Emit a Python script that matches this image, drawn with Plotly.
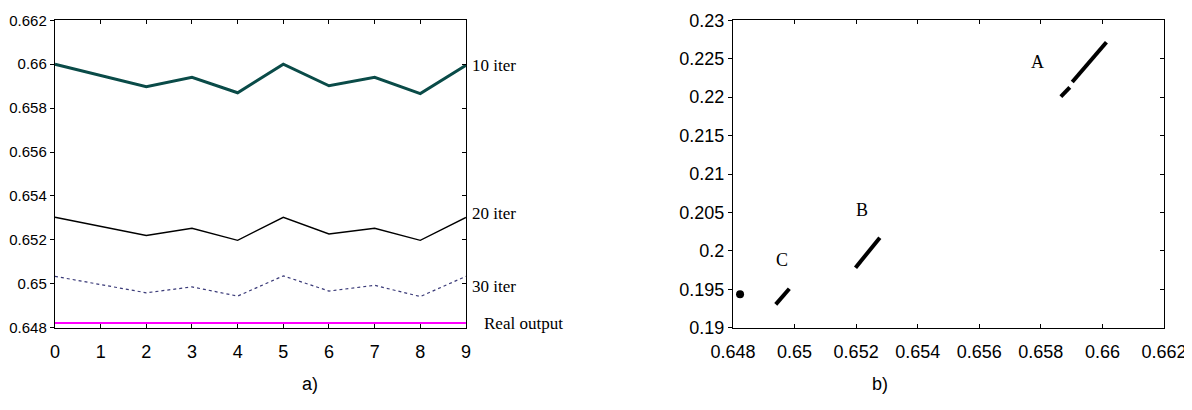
import plotly.graph_objects as go

# ---- data: panel a) ----
iterations = [0, 1, 2, 3, 4, 5, 6, 7, 8, 9]
iter10 = [0.6600, 0.6595, 0.65897, 0.6594, 0.6587, 0.6600, 0.65902, 0.6594, 0.65866, 0.65995]
iter20 = [0.65303, 0.65262, 0.6522, 0.65253, 0.65198, 0.65303, 0.65227, 0.65253, 0.65198, 0.65302]
iter30 = [0.65034, 0.64997, 0.64959, 0.64986, 0.64944, 0.65036, 0.64967, 0.64993, 0.64942, 0.65034]
real_output = [0.64821] * 10
a_labels = ["10 iter", "20 iter", "30 iter", "Real output"]
a_label_y = [0.65992, 0.6532, 0.64987, 0.6482]

# ---- data: panel b) ----
A1_x = [0.65865, 0.65894]
A1_y = [0.22006, 0.22128]
A2_x = [0.65902, 0.66013]
A2_y = [0.22197, 0.22714]
B_x = [0.65198, 0.65277]
B_y = [0.19781, 0.20171]
C_x = [0.64939, 0.64983]
C_y = [0.19304, 0.19507]
real_x = [0.64823]
real_y = [0.19434]
b_labels = ["A", "B", "C"]
b_label_x = [0.6579, 0.65219, 0.64958]
b_label_y = [0.2246, 0.2053, 0.1988]

a_yticks = [0.648, 0.65, 0.652, 0.654, 0.656, 0.658, 0.66, 0.662]
a_yticktext = ["0.648", "0.65", "0.652", "0.654", "0.656", "0.658", "0.66", "0.662"]
b_xticks = [0.648, 0.65, 0.652, 0.654, 0.656, 0.658, 0.66, 0.662]
b_xticktext = ["0.648", "0.65", "0.652", "0.654", "0.656", "0.658", "0.66", "0.662"]
b_yticks = [0.19, 0.195, 0.2, 0.205, 0.21, 0.215, 0.22, 0.225, 0.23]
b_yticktext = ["0.19", "0.195", "0.2", "0.205", "0.21", "0.215", "0.22", "0.225", "0.23"]

SANS = "Liberation Sans, Arial, sans-serif"
SERIF = "Liberation Serif, Times New Roman, serif"

fig = go.Figure()

# panel a traces
fig.add_trace(go.Scatter(x=iterations, y=iter10, mode="lines",
                         line=dict(color="#0a4b48", width=3), xaxis="x", yaxis="y"))
fig.add_trace(go.Scatter(x=iterations, y=iter20, mode="lines",
                         line=dict(color="#000000", width=1.4), xaxis="x", yaxis="y"))
fig.add_trace(go.Scatter(x=iterations, y=iter30, mode="lines",
                         line=dict(color="#3a3a78", width=1.2, dash="dot"), xaxis="x", yaxis="y"))
fig.add_trace(go.Scatter(x=iterations, y=real_output, mode="lines",
                         line=dict(color="#ff00ff", width=2), xaxis="x", yaxis="y"))
# overlay axis for right-side inner ticks (panel a)
fig.add_trace(go.Scatter(x=[], y=[], xaxis="x", yaxis="y3", showlegend=False))

# panel b traces
for xs, ys in [(A1_x, A1_y), (A2_x, A2_y), (B_x, B_y), (C_x, C_y)]:
    fig.add_trace(go.Scatter(x=xs, y=ys, mode="lines",
                             line=dict(color="#000000", width=4), xaxis="x2", yaxis="y2"))
fig.add_trace(go.Scatter(x=real_x, y=real_y, mode="markers",
                         marker=dict(color="#000000", size=8, symbol="circle"),
                         xaxis="x2", yaxis="y2"))
fig.add_trace(go.Scatter(x=[], y=[], xaxis="x2", yaxis="y4", showlegend=False))

annotations = []
for lab, yv in zip(a_labels, a_label_y):
    annotations.append(dict(x=9, y=yv, xref="x", yref="y", text=lab, showarrow=False,
                            xanchor="left", yanchor="middle",
                            xshift=(16 if lab == "Real output" else 4),
                            font=dict(family=SERIF, size=17, color="#000")))
for lab, xv, yv in zip(b_labels, b_label_x, b_label_y):
    annotations.append(dict(x=xv, y=yv, xref="x2", yref="y2", text=lab, showarrow=False,
                            xanchor="center", yanchor="middle",
                            font=dict(family=SERIF, size=18, color="#000")))
annotations.append(dict(x=0.245, y=0.054, xref="paper", yref="paper", text="a)", showarrow=False,
                        font=dict(family=SANS, size=18, color="#000")))
annotations.append(dict(x=0.740, y=0.054, xref="paper", yref="paper", text="b)", showarrow=False,
                        font=dict(family=SANS, size=18, color="#000")))

axis_common = dict(showgrid=False, zeroline=False, showline=True, linecolor="#000",
                   linewidth=1.3, tickcolor="#000", ticklen=4, automargin=False)

YDOM = [0.2202, 0.9700]

fig.update_layout(
    width=1192, height=410,
    margin=dict(l=0, r=0, t=0, b=0, autoexpand=False),
    paper_bgcolor="white", plot_bgcolor="white",
    showlegend=False,
    annotations=annotations,
    xaxis=dict(domain=[0.0394, 0.3842], range=[0, 9], anchor="y",
               tickvals=iterations, ticks="inside", mirror="ticks",
               ticklabelstandoff=8,
               tickfont=dict(family=SANS, size=18, color="#000"), **axis_common),
    yaxis=dict(domain=YDOM, range=[0.648, 0.662], anchor="x",
               tickvals=a_yticks, ticktext=a_yticktext, ticks="outside", mirror=True,
               tickfont=dict(family=SANS, size=15, color="#000"), **axis_common),
    yaxis3=dict(overlaying="y", side="right", anchor="x", range=[0.648, 0.662],
                tickvals=a_yticks, ticks="inside", showticklabels=False, automargin=False,
                showgrid=False, zeroline=False, showline=False, tickcolor="#000", ticklen=4),
    xaxis2=dict(domain=[0.6082, 0.9698], range=[0.648, 0.662], anchor="y2",
                tickvals=b_xticks, ticktext=b_xticktext, ticks="inside", mirror="ticks",
                ticklabelstandoff=8,
                tickfont=dict(family=SANS, size=18, color="#000"), **axis_common),
    yaxis2=dict(domain=YDOM, range=[0.19, 0.23], anchor="x2",
                tickvals=b_yticks, ticktext=b_yticktext, ticks="outside", mirror=True,
                tickfont=dict(family=SANS, size=18, color="#000"), **axis_common),
    yaxis4=dict(overlaying="y2", side="right", anchor="x2", range=[0.19, 0.23],
                tickvals=b_yticks, ticks="inside", showticklabels=False, automargin=False,
                showgrid=False, zeroline=False, showline=False, tickcolor="#000", ticklen=4),
)

fig.write_html("out.html")
